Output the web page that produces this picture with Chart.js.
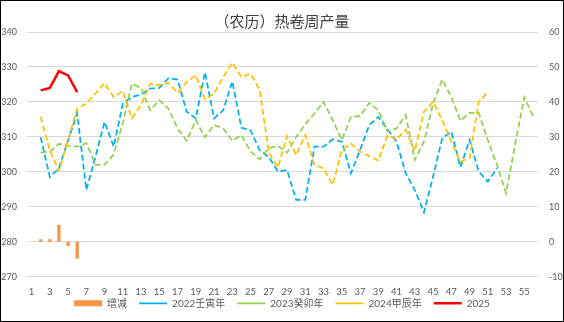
<!DOCTYPE html>
<html>
<head>
<meta charset="utf-8">
<script src="https://cdn.jsdelivr.net/npm/chart.js@4.4.1/dist/chart.umd.min.js"></script>
<style>
  html, body { margin: 0; padding: 0; background: #fff; }
  #frame { width: 564px; height: 322px; box-sizing: border-box; border: 1px solid #000; }
  canvas { display: block; }
</style>
</head>
<body>
<div id="frame"><canvas id="myChart" width="562" height="320"></canvas></div>
<script>
// lunar-calendar week numbers
var weeks = [1, 2, 3, 4, 5, 6, 7, 8, 9, 10, 11, 12, 13, 14, 15, 16, 17, 18, 19, 20,
             21, 22, 23, 24, 25, 26, 27, 28, 29, 30, 31, 32, 33, 34, 35, 36, 37, 38, 39, 40,
             41, 42, 43, 44, 45, 46, 47, 48, 49, 50, 51, 52, 53, 54, 55, 56];

// week-on-week change of 2025 (right axis)
var change = [null, 0.7, 0.7, 4.8, -1.2, -4.8];

// weekly hot-rolled coil output (left axis)
var y2022 = [null, 309.9, 298.5, 301.0, 309.0, 316.7, 294.8, 304.3, 314.3, 307.2,
             319.5, 321.4, 322.1, 323.8, 324.0, 326.8, 326.4, 317.2, 315.3, 328.5,
             315.3, 317.6, 325.9, 312.6, 311.9, 306.2, 304.2, 300.1, 300.5, 292.0,
             292.0, 307.2, 307.2, 309.3, 308.6, 299.6, 306.2, 313.4, 315.7, 312.2,
             308.6, 299.6, 294.8, 288.4, 298.6, 309.6, 311.5, 301.3, 309.1, 300.1,
             297.2, 301.0, null, null, null, null];

var y2023 = [null, 305.5, 305.8, 308.0, 307.5, 307.2, 308.2, 302.0, 302.0, 305.0,
             314.0, 325.2, 324.0, 317.6, 320.5, 318.1, 312.4, 308.9, 314.8, 309.9,
             313.4, 312.4, 308.9, 310.5, 305.8, 303.6, 306.8, 307.4, 305.5, 310.0,
             313.6, 316.7, 320.0, 314.8, 309.1, 315.7, 315.9, 319.7, 317.6, 311.5,
             312.4, 316.2, 303.4, 308.6, 319.5, 326.4, 321.4, 314.6, 316.9, 316.9,
             309.1, 302.0, 293.9, 308.0, 321.3, 315.7];

var y2024 = [null, 315.7, 306.2, 300.3, 309.1, 318.1, 319.5, 322.4, 325.4, 321.4,
             323.1, 315.3, 319.1, 325.2, 324.8, 325.4, 322.6, 325.7, 327.6, 320.7,
             322.4, 327.1, 331.2, 327.1, 328.1, 323.5, 305.5, 301.3, 310.2, 304.8,
             310.5, 302.0, 301.0, 296.3, 306.2, 308.1, 305.8, 304.5, 303.2, 310.4,
             309.3, 312.0, 306.0, 317.2, 320.0, 314.8, 308.6, 302.9, 303.9, 320.0,
             322.8, null, null, null, null, null];

var y2025 = [null, 323.3, 324.0, 328.8, 327.6, 322.8];

var leftTicks = [270, 340];
var rightTicks = [-10, 60];

var GRID = '#D9D9D9';
var TEXT = '#595959';

Chart.defaults.font.family = "Lato, 'Noto Sans CJK SC', sans-serif";
Chart.defaults.color = TEXT;

function dashed(label, data, color, order) {
    return {
        type: 'line',
        label: label,
        data: data,
        yAxisID: 'y',
        borderColor: color,
        backgroundColor: color,
        borderWidth: 1.75,
        borderDash: [6, 3],
        pointRadius: 0,
        tension: 0,
        order: order
    };
}

// pull the legend row up so it sits just under the week labels
// (only the top edge moves, the legend clips to its own box)
var legendLift = {
    id: 'legendLift',
    afterLayout: function (chart) {
        var lg = chart.legend;
        if (!lg) return;
        lg.top -= 21;
    }
};

var ctx = document.getElementById('myChart').getContext('2d');
var myChart = new Chart(ctx, {
    type: 'line',
    data: {
        labels: weeks,
        datasets: [{
            type: 'bar',
            label: '增减',
            data: change,
            yAxisID: 'y1',
            backgroundColor: '#F79646',
            borderColor: '#F79646',
            categoryPercentage: 1,
            barPercentage: 0.37,
            order: 4
        },
        dashed('2022壬寅年', y2022, '#00B0F0', 3),
        dashed('2023癸卯年', y2023, '#92D050', 2),
        dashed('2024甲辰年', y2024, '#FFC000', 1),
        {
            type: 'line',
            label: '2025',
            data: y2025,
            yAxisID: 'y',
            borderColor: '#FF0000',
            backgroundColor: '#FF0000',
            borderWidth: 2.5,
            pointRadius: 0,
            tension: 0,
            order: 0
        }]
    },
    plugins: [legendLift],
    options: {
        responsive: false,
        animation: false,
        layout: { padding: { left: 0, right: 0, top: 0, bottom: 0 } },
        plugins: {
            title: {
                display: true,
                text: '（农历）热卷周产量',
                color: '#404040',
                font: { family: "'Noto Sans CJK SC', sans-serif", size: 15, weight: 'normal' },
                padding: { top: 11, bottom: 2 }
            },
            legend: {
                position: 'bottom',
                maxHeight: 13.7,
                labels: {
                    usePointStyle: true,
                    pointStyle: 'line',
                    pointStyleWidth: 28,
                    padding: 12,
                    color: TEXT,
                    font: { size: 10 },
                    sort: function (a, b) { return a.datasetIndex - b.datasetIndex; },
                    generateLabels: function (chart) {
                        var items = Chart.defaults.plugins.legend.labels.generateLabels(chart);
                        items.forEach(function (item) {
                            var ds = chart.data.datasets[item.datasetIndex];
                            item.pointStyle = 'line';
                            if (ds.type === 'bar') {
                                item.lineWidth = 6;
                                item.strokeStyle = ds.backgroundColor;
                                item.lineDash = [];
                            }
                        });
                        return items;
                    }
                }
            },
            tooltip: { enabled: false }
        },
        scales: {
            x: {
                offset: true,
                grid: { display: false, drawTicks: false },
                border: { display: false },
                ticks: {
                    autoSkip: false,
                    maxRotation: 0,
                    padding: 9.6,
                    font: { size: 9.5 },
                    callback: function (value, index) {
                        return index % 2 === 0 ? String(weeks[index]) : '';
                    }
                }
            },
            y: {
                position: 'left',
                min: leftTicks[0],
                max: leftTicks[1],
                ticks: { stepSize: 10, padding: 10, font: { size: 9 } },
                grid: { color: GRID, lineWidth: 1, drawTicks: false },
                border: { display: false },
                afterFit: function (scale) { scale.width = 26; }
            },
            y1: {
                position: 'right',
                min: rightTicks[0],
                max: rightTicks[1],
                ticks: { stepSize: 10, padding: 11, font: { size: 9 } },
                grid: { display: false, drawTicks: false },
                border: { display: false },
                afterFit: function (scale) { scale.width = 25; }
            }
        }
    }
});
</script>
</body>
</html>
